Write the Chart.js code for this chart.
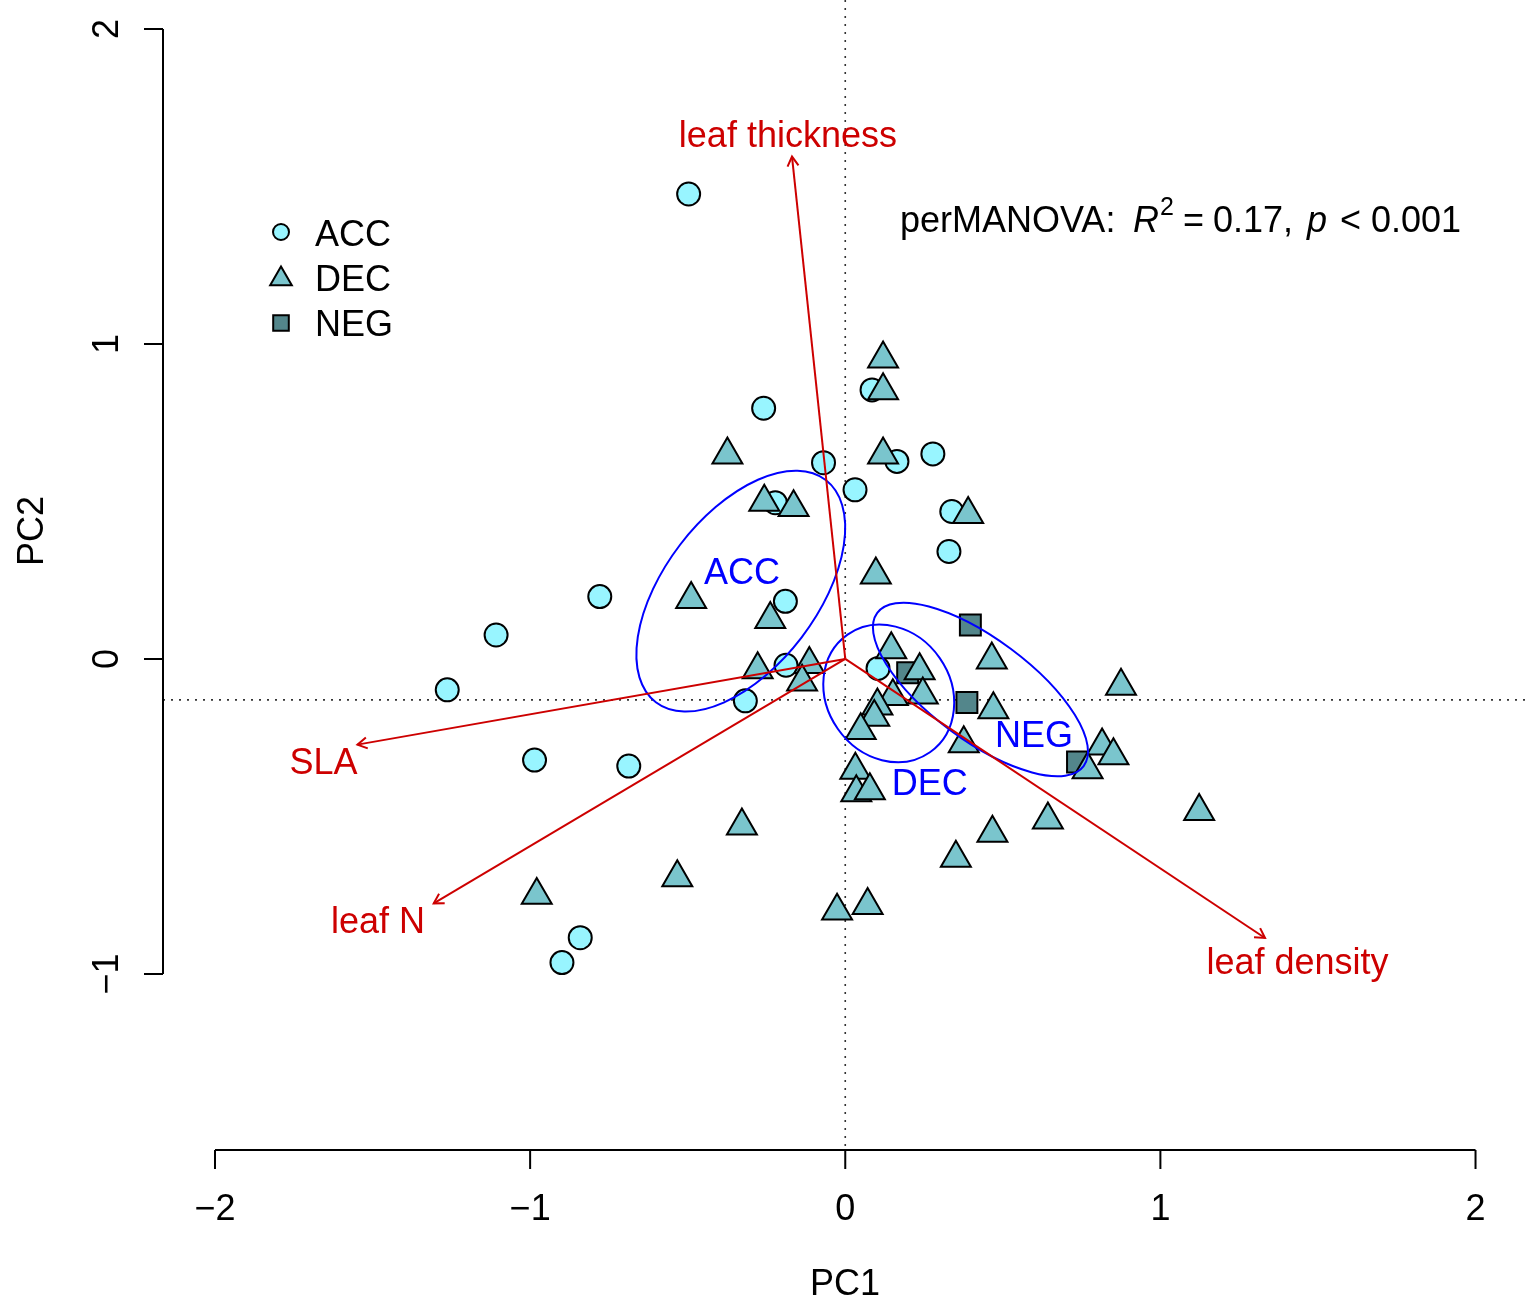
<!DOCTYPE html>
<html lang="en">
<head>
<meta charset="UTF-8" />
<title>PCA biplot of leaf traits</title>
<style>
  html, body { margin: 0; padding: 0; background: #fff; }
  canvas { display: block; }
</style>
</head>
<body>
<canvas id="myChart" width="1525" height="1310"></canvas>
<script src="https://cdn.jsdelivr.net/npm/chart.js"></script>
<script>
// PC scores, one pair of arrays per group
let accX = [-0.497, -0.259, 0.085, -0.069, 0.164, 0.278, 0.031, -0.222, 0.338, 0.329, -0.190,
            -0.779, -1.108, -1.263, -0.188, -0.317, 0.104, -0.986, -0.687, -0.841, -0.899];
let accY = [1.476, 0.796, 0.854, 0.623, 0.627, 0.651, 0.537, 0.496, 0.468, 0.341, 0.183,
            0.198, 0.076, -0.098, -0.020, -0.133, -0.030, -0.321, -0.340, -0.885, -0.964];

let decX = [0.120, 0.120, -0.374, 0.120, -0.257, -0.164, 0.390, 0.097, -0.489, -0.238,
            0.146, -0.278, -0.114, -0.137, 0.236, 0.246, 0.151, 0.102, 0.092, 0.049,
            0.465, 0.470, 0.376, 0.875, 0.815, 0.851, 0.769, 1.123, 0.032, 0.035,
            0.078, -0.328, 0.643, 0.467, 0.351, -0.533, -0.979, -0.026, 0.071];
let decY = [0.953, 0.852, 0.648, 0.648, 0.498, 0.481, 0.459, 0.267, 0.189, 0.126,
            0.030, -0.034, -0.017, -0.073, -0.037, -0.114, -0.119, -0.149, -0.185, -0.227,
            -0.003, -0.161, -0.269, -0.086, -0.276, -0.307, -0.351, -0.484, -0.353, -0.424,
            -0.418, -0.530, -0.511, -0.553, -0.632, -0.694, -0.750, -0.800, -0.782];

let negX = [0.397, 0.198, 0.386, 0.737];
let negY = [0.108, -0.044, -0.138, -0.327];

// trait loadings (arrow tips) and where their labels sit
let traitNames = ["leaf thickness", "SLA", "leaf N", "leaf density"];
let traitX = [-0.169, -1.548, -1.306, 1.332];
let traitY = [1.595, -0.272, -0.776, -0.886];
let traitLabelX = [-0.182, -1.656, -1.483, 1.435];
let traitLabelY = [1.667, -0.324, -0.829, -0.959];

// group ellipses: centre, semi axes, angle (degrees)
let groupNames = ["ACC", "DEC", "NEG"];
let ellCx = [-0.3315, 0.138, 0.429];
let ellCy = [0.2152, -0.1095, -0.0968];
let ellA = [0.444, 0.228, 0.408];
let ellB = [0.2425, 0.197, 0.161];
let ellAngle = [52.6, -55, -36.6];
let groupLabelX = [-0.328, 0.268, 0.599];
let groupLabelY = [0.280, -0.390, -0.239];

let xTicks = [-2, -1, 0, 1, 2];
let yTicks = [-1, 0, 1, 2];
let refLineX = 0;
let refLineY = -0.13;

const FONT = '"Liberation Sans", Arial, Helvetica, sans-serif';
const RED = "#CD0000";
const BLUE = "#0000FF";
const MID = 3; // canvas "middle" sits a little high for this font
const fills = { ACC: "#98F5FF", DEC: "#7AC5CD", NEG: "#53868B" };

function pts(xs, ys) {
  return xs.map((x, i) => ({ x: x, y: ys[i] }));
}

function fmt(v) {
  return v < 0 ? "\u2212" + Math.abs(v) : String(v);
}

// small marker for the legend
function marker(ctx, style, x, y, r, fill) {
  ctx.save();
  ctx.fillStyle = fill;
  ctx.strokeStyle = "#000";
  ctx.lineWidth = 2;
  ctx.beginPath();
  if (style === "circle") {
    ctx.arc(x, y, r, 0, Math.PI * 2);
  } else if (style === "triangle") {
    ctx.moveTo(x, y - r);
    ctx.lineTo(x + r * Math.sin(2 * Math.PI / 3), y + r / 2);
    ctx.lineTo(x - r * Math.sin(2 * Math.PI / 3), y + r / 2);
    ctx.closePath();
  } else {
    ctx.rect(x - r, y - r, 2 * r, 2 * r);
  }
  ctx.fill();
  ctx.stroke();
  ctx.restore();
}

const biplot = {
  id: "biplot",
  beforeDatasetsDraw(chart) {
    const ctx = chart.ctx, area = chart.chartArea;
    const sx = chart.scales.x, sy = chart.scales.y;
    ctx.save();
    ctx.strokeStyle = "#333";
    ctx.lineWidth = 1.6;
    ctx.setLineDash([2, 6]);
    let vx = sx.getPixelForValue(refLineX);
    ctx.beginPath();
    ctx.moveTo(vx, area.top);
    ctx.lineTo(vx, area.bottom - 4);
    ctx.stroke();
    let hy = sy.getPixelForValue(refLineY);
    ctx.beginPath();
    ctx.moveTo(area.left, hy);
    ctx.lineTo(area.right, hy);
    ctx.stroke();
    ctx.restore();
  },
  afterDatasetsDraw(chart) {
    const ctx = chart.ctx;
    const sx = chart.scales.x, sy = chart.scales.y;
    const kx = Math.abs(sx.getPixelForValue(1) - sx.getPixelForValue(0));
    const ky = Math.abs(sy.getPixelForValue(1) - sy.getPixelForValue(0));
    const k = (kx + ky) / 2;

    // ellipses
    ctx.save();
    ctx.strokeStyle = BLUE;
    ctx.lineWidth = 2;
    for (let i = 0; i < groupNames.length; i++) {
      ctx.beginPath();
      ctx.ellipse(sx.getPixelForValue(ellCx[i]), sy.getPixelForValue(ellCy[i]),
        ellA[i] * k, ellB[i] * k, -ellAngle[i] * Math.PI / 180, 0, Math.PI * 2);
      ctx.stroke();
    }
    ctx.fillStyle = BLUE;
    ctx.font = "36px " + FONT;
    ctx.textAlign = "center";
    ctx.textBaseline = "middle";
    for (let i = 0; i < groupNames.length; i++) {
      ctx.fillText(groupNames[i], sx.getPixelForValue(groupLabelX[i]), sy.getPixelForValue(groupLabelY[i]) + MID);
    }
    ctx.restore();

    // arrows
    ctx.save();
    ctx.strokeStyle = RED;
    ctx.fillStyle = RED;
    ctx.lineWidth = 2;
    const ox = sx.getPixelForValue(0), oy = sy.getPixelForValue(0);
    for (let i = 0; i < traitNames.length; i++) {
      const tx = sx.getPixelForValue(traitX[i]), ty = sy.getPixelForValue(traitY[i]);
      ctx.beginPath();
      ctx.moveTo(ox, oy);
      ctx.lineTo(tx, ty);
      ctx.stroke();
      const ang = Math.atan2(oy - ty, ox - tx);
      const len = 11, spread = Math.PI / 6;
      ctx.beginPath();
      ctx.moveTo(tx + len * Math.cos(ang + spread), ty + len * Math.sin(ang + spread));
      ctx.lineTo(tx, ty);
      ctx.lineTo(tx + len * Math.cos(ang - spread), ty + len * Math.sin(ang - spread));
      ctx.stroke();
    }
    ctx.font = "36px " + FONT;
    ctx.textAlign = "center";
    ctx.textBaseline = "middle";
    for (let i = 0; i < traitNames.length; i++) {
      ctx.fillText(traitNames[i], sx.getPixelForValue(traitLabelX[i]), sy.getPixelForValue(traitLabelY[i]) + MID);
    }
    ctx.restore();
  },
  afterDraw(chart) {
    const ctx = chart.ctx, area = chart.chartArea;
    const sx = chart.scales.x, sy = chart.scales.y;
    ctx.save();
    ctx.strokeStyle = "#000";
    ctx.fillStyle = "#000";
    ctx.lineWidth = 2;
    ctx.font = "36px " + FONT;

    // x axis
    const ax = area.bottom;
    ctx.beginPath();
    ctx.moveTo(sx.getPixelForValue(xTicks[0]), ax);
    ctx.lineTo(sx.getPixelForValue(xTicks[xTicks.length - 1]), ax);
    xTicks.forEach(t => {
      const p = sx.getPixelForValue(t);
      ctx.moveTo(p, ax);
      ctx.lineTo(p, ax + 19);
    });
    ctx.stroke();
    ctx.textAlign = "center";
    ctx.textBaseline = "middle";
    xTicks.forEach(t => ctx.fillText(fmt(t), sx.getPixelForValue(t), 1207 + MID));
    ctx.fillText("PC1", 845, 1282 + MID);

    // y axis
    const ay = area.left;
    ctx.beginPath();
    ctx.moveTo(ay, sy.getPixelForValue(yTicks[0]));
    ctx.lineTo(ay, sy.getPixelForValue(yTicks[yTicks.length - 1]));
    yTicks.forEach(t => {
      const p = sy.getPixelForValue(t);
      ctx.moveTo(ay, p);
      ctx.lineTo(ay - 19, p);
    });
    ctx.stroke();
    yTicks.forEach(t => {
      ctx.save();
      ctx.translate(105, sy.getPixelForValue(t));
      ctx.rotate(-Math.PI / 2);
      ctx.fillText(fmt(t), 0, MID);
      ctx.restore();
    });
    ctx.save();
    ctx.translate(30, 531);
    ctx.rotate(-Math.PI / 2);
    ctx.fillText("PC2", 0, MID);
    ctx.restore();

    // legend
    marker(ctx, "circle", 281, 232, 8, fills.ACC);
    marker(ctx, "triangle", 281, 279, 12.5, fills.DEC);
    marker(ctx, "rect", 281, 323, 7.8, fills.NEG);
    ctx.fillStyle = "#000";
    ctx.textAlign = "left";
    ctx.textBaseline = "middle";
    ctx.fillText("ACC", 315, 233 + MID);
    ctx.fillText("DEC", 315, 278 + MID);
    ctx.fillText("NEG", 315, 323 + MID);

    // perMANOVA result, pieces placed as in the original plotmath layout
    const parts = [
      ["perMANOVA:", "36px", 900, 0],
      ["R", "italic 36px", 1133, 0],
      ["2", "25px", 1160, -17],
      ["=", "36px", 1183, 0],
      ["0.17,", "36px", 1213, 0],
      ["p", "italic 36px", 1307, 0],
      ["<", "36px", 1340, 0],
      ["0.001", "36px", 1371, 0]
    ];
    ctx.textBaseline = "alphabetic";
    parts.forEach(p => {
      ctx.font = p[1] + " " + FONT;
      ctx.fillText(p[0], p[2], 232 + p[3]);
    });
    ctx.restore();
  }
};

const ctx = document.getElementById("myChart").getContext("2d");
const chart = new Chart(ctx, {
  type: "scatter",
  data: {
    datasets: [
      {
        label: "ACC",
        data: pts(accX, accY),
        pointStyle: "circle",
        pointRadius: 11.5,
        pointBackgroundColor: fills.ACC,
        pointBorderColor: "#000",
        pointBorderWidth: 2,
        order: 2
      },
      {
        label: "DEC",
        data: pts(decX, decY),
        pointStyle: "triangle",
        pointRadius: 17.3,
        pointBackgroundColor: fills.DEC,
        pointBorderColor: "#000",
        pointBorderWidth: 2,
        order: 1
      },
      {
        label: "NEG",
        data: pts(negX, negY),
        pointStyle: "rect",
        pointRadius: 14.8,
        pointBackgroundColor: fills.NEG,
        pointBorderColor: "#000",
        pointBorderWidth: 2,
        order: 3
      }
    ]
  },
  options: {
    responsive: false,
    animation: false,
    events: [],
    layout: { autoPadding: false, padding: { left: 163, right: 0, top: 0, bottom: 160 } },
    scales: {
      x: { type: "linear", min: -2.165, max: 2.157, display: false },
      y: { type: "linear", min: -1.559, max: 2.092, display: false }
    },
    plugins: {
      legend: { display: false },
      tooltip: { enabled: false }
    }
  },
  plugins: [biplot]
});
</script>
</body>
</html>
